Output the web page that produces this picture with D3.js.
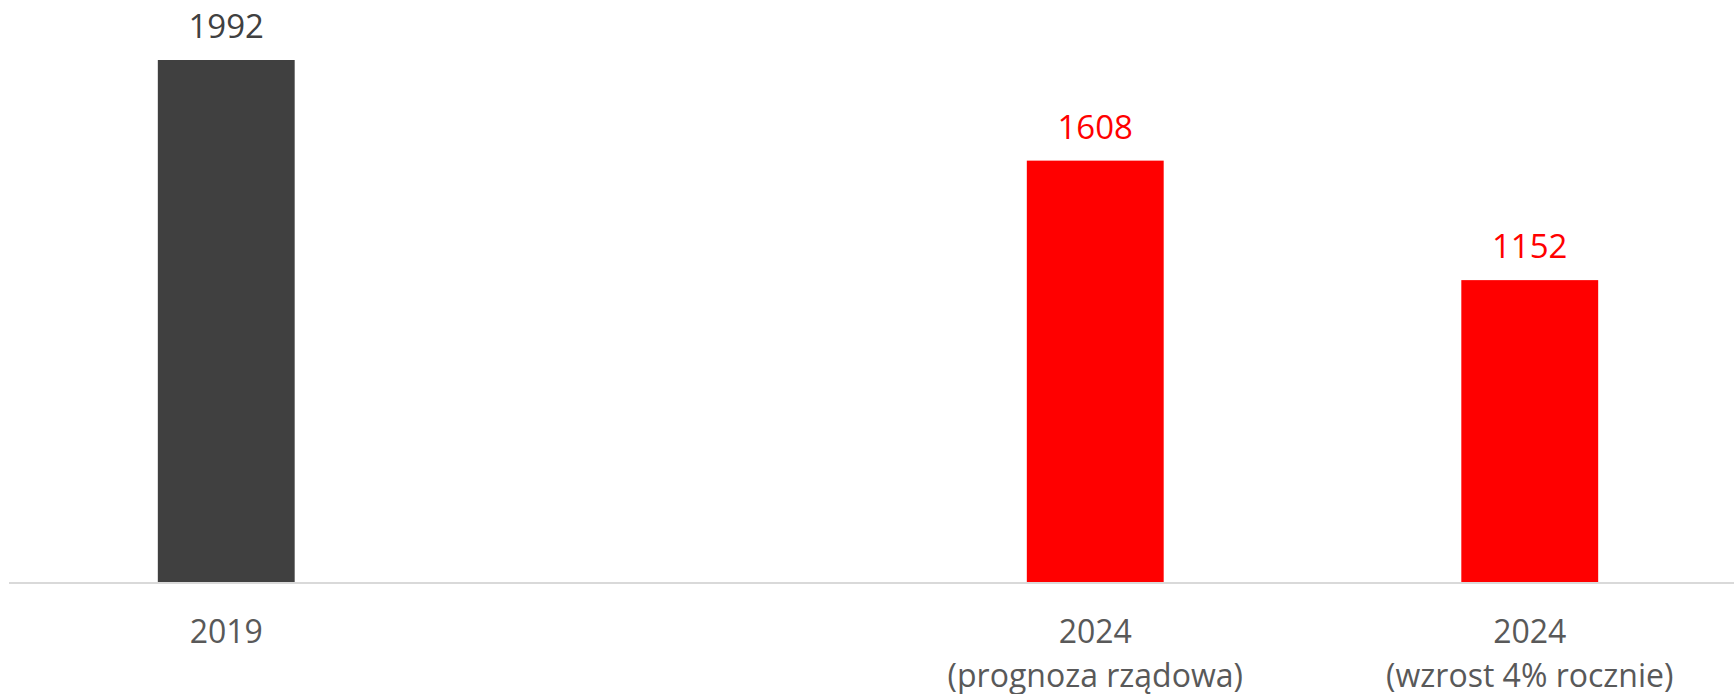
<!DOCTYPE html>
<html>
<head>
<meta charset="utf-8">
<script src="https://cdn.jsdelivr.net/npm/d3@7"></script>
<style>
  body { margin: 0; background: #fff; }
  svg text { font-family: "Open Sans", Lato, sans-serif; }
</style>
</head>
<body>
<svg id="chart" width="1734" height="694"></svg>
<script>
// categories (one empty slot between 2019 and 2024, as in the original)
var categories = ["2019", "gap", "2024a", "2024b"];
var cat_lines = [["2019"], [], ["2024", "(prognoza rządowa)"], ["2024", "(wzrost 4% rocznie)"]];
var values = [1992, null, 1608, 1152];
var bar_colors = ["#404040", null, "#ff0000", "#ff0000"];
var label_colors = ["#404040", null, "#ff0000", "#ff0000"];

var svg = d3.select("#chart");
var baseline = 582;

var x = d3.scaleBand().domain(categories).range([9, 1747])
   .paddingInner(0.685).paddingOuter(0.3425);
var y = d3.scaleLinear().domain([0, 2200]).range([baseline, 5.5]);

var data = categories.map(function(c, i) {
   return { cat: c, value: values[i], color: bar_colors[i], lcolor: label_colors[i], lines: cat_lines[i] };
});
var bars = data.filter(function(d) { return d.value != null; });

svg.append("g").selectAll("rect").data(bars).enter().append("rect")
   .attr("x", function(d) { return x(d.cat); })
   .attr("width", x.bandwidth())
   .attr("y", function(d) { return y(d.value); })
   .attr("height", function(d) { return baseline - y(d.value); })
   .attr("fill", function(d) { return d.color; });

// axis line
svg.append("line")
   .attr("x1", 9).attr("x2", 1734)
   .attr("y1", baseline + 1).attr("y2", baseline + 1)
   .attr("stroke", "#d9d9d9").attr("stroke-width", 2);

// value labels
svg.append("g").selectAll("text").data(bars).enter().append("text")
   .attr("x", function(d) { return x(d.cat) + x.bandwidth() / 2; })
   .attr("y", function(d) { return y(d.value) - 22; })
   .attr("text-anchor", "middle")
   .attr("font-size", 33)
   .attr("fill", function(d) { return d.lcolor; })
   .text(function(d) { return d.value; });

// category labels
var cat_g = svg.append("g").selectAll("text").data(data).enter().append("text")
   .attr("text-anchor", "middle")
   .attr("font-size", 32)
   .attr("fill", "#595959");
cat_g.each(function(d) {
   var t = d3.select(this);
   d.lines.forEach(function(line, i) {
      t.append("tspan")
         .attr("x", x(d.cat) + x.bandwidth() / 2)
         .attr("y", baseline + 61 + i * 44)
         .text(line);
   });
});
</script>
</body>
</html>
